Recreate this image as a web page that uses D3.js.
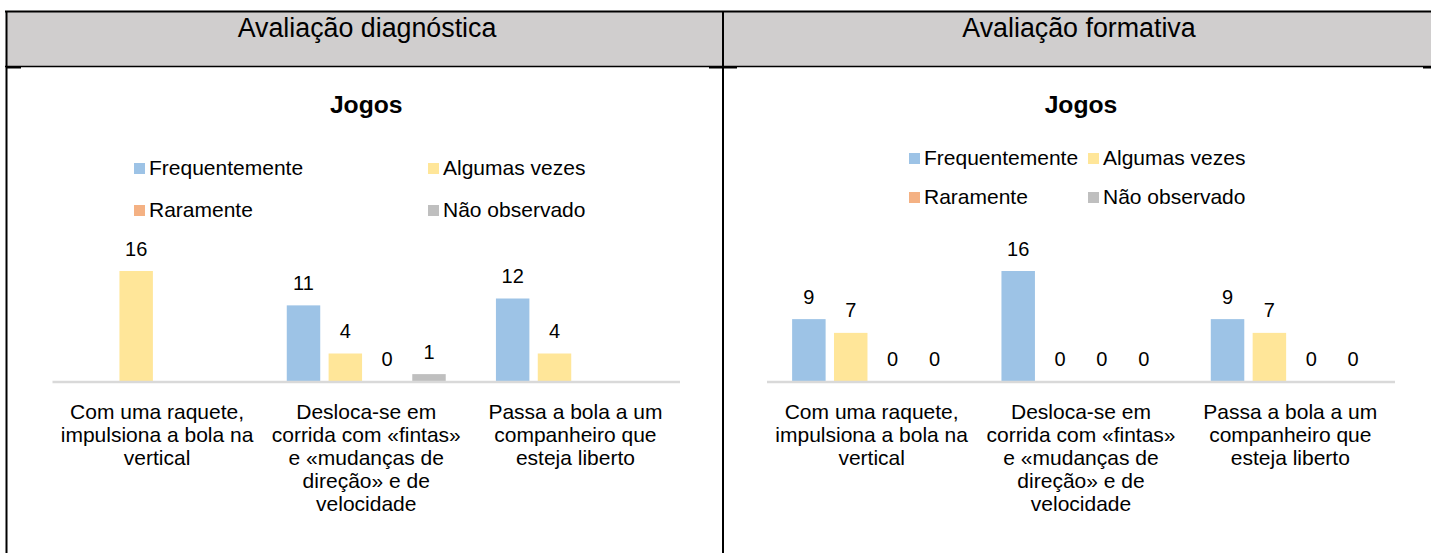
<!DOCTYPE html>
<html>
<head>
<meta charset="utf-8">
<script src="https://cdn.jsdelivr.net/npm/d3@7"></script>
<style>
  body { margin: 0; background: #fff; }
  svg { display: block; font-family: "Liberation Sans", Arial, sans-serif; }
</style>
</head>
<body>
<svg id="chart" width="1431" height="553"></svg>
<script>
// data
const panelTitles = ["Avaliação diagnóstica", "Avaliação formativa"];
const chartTitle = "Jogos";
const seriesNames = ["Frequentemente", "Algumas vezes", "Raramente", "Não observado"];
const seriesColors = ["#9dc3e6", "#ffe699", "#f4b183", "#bfbfbf"];
const categories = [
  ["Com uma raquete,", "impulsiona a bola na", "vertical"],
  ["Desloca-se em", "corrida com «fintas»", "e «mudanças de", "direção» e de", "velocidade"],
  ["Passa a bola a um", "companheiro que", "esteja liberto"]
];
// one row per category, one value per series (null = no label)
const diagnosticaValues = [
  [null, 16, null, null],
  [11, 4, 0, 1],
  [12, 4, null, null]
];
const formativaValues = [
  [9, 7, 0, 0],
  [16, 0, 0, 0],
  [9, 7, 0, 0]
];

const svg = d3.select("#chart");

// table frame
svg.append("rect")
  .attr("x", 6).attr("y", 11)
  .attr("width", 1430).attr("height", 56)
  .attr("fill", "#d0cece");

const frame = svg.append("g").attr("stroke", "#000");
frame.append("line").attr("x1", 5).attr("x2", 1436).attr("y1", 11.5).attr("y2", 11.5).attr("stroke-width", 2);
frame.append("line").attr("x1", 5).attr("x2", 1436).attr("y1", 66.5).attr("y2", 66.5).attr("stroke-width", 1.5);
frame.append("line").attr("x1", 6.5).attr("x2", 6.5).attr("y1", 11).attr("y2", 553).attr("stroke-width", 2);
frame.append("line").attr("x1", 723).attr("x2", 723).attr("y1", 11).attr("y2", 553).attr("stroke-width", 2);
[[6, 21], [709, 737], [1423, 1431]].forEach(function(s) {
  frame.append("line").attr("x1", s[0]).attr("x2", s[1]).attr("y1", 67.5).attr("y2", 67.5).attr("stroke-width", 2);
});

svg.selectAll(".panel-title")
  .data(panelTitles)
  .enter().append("text")
  .attr("class", "panel-title")
  .attr("x", function(d, i) { return i === 0 ? 367 : 1079; })
  .attr("y", 37)
  .attr("text-anchor", "middle")
  .attr("font-size", "26.8px")
  .attr("fill", "#000")
  .text(function(d) { return d; });

function drawChart(values, p) {
  const g = svg.append("g");

  g.append("text")
    .attr("x", (p.x0 + p.x1) / 2)
    .attr("y", 113)
    .attr("text-anchor", "middle")
    .attr("font-size", "24.7px")
    .attr("font-weight", "bold")
    .attr("fill", "#000")
    .text(chartTitle);

  // legend
  const legend = g.selectAll(".legend")
    .data(seriesNames)
    .enter().append("g")
    .attr("class", "legend")
    .attr("transform", function(d, i) {
      return "translate(" + p.legendX[i % 2] + "," + p.legendY[Math.floor(i / 2)] + ")";
    });
  legend.append("rect")
    .attr("x", 0).attr("y", -12)
    .attr("width", 11).attr("height", 11)
    .attr("fill", function(d, i) { return seriesColors[i]; });
  legend.append("text")
    .attr("x", 15).attr("y", 0)
    .attr("font-size", "21px")
    .attr("fill", "#000")
    .text(function(d) { return d; });

  const x0 = d3.scaleBand()
    .domain(d3.range(categories.length))
    .range([p.x0, p.x1]);

  const x1 = d3.scaleBand()
    .domain(d3.range(seriesNames.length))
    .range([0, x0.bandwidth()])
    .paddingInner(0.2)
    .paddingOuter(0.6);

  const y = d3.scaleLinear()
    .domain([0, 16])
    .range([381, 271]);

  const groups = g.selectAll(".cat")
    .data(values)
    .enter().append("g")
    .attr("class", "cat")
    .attr("transform", function(d, i) { return "translate(" + x0(i) + ",0)"; });

  const cells = groups.selectAll(".cell")
    .data(function(d) { return d.map(function(v, i) { return { v: v, s: i }; }); })
    .enter().append("g");

  cells.filter(function(d) { return d.v; })
    .append("rect")
    .attr("x", function(d) { return x1(d.s); })
    .attr("width", x1.bandwidth())
    .attr("y", function(d) { return y(d.v); })
    .attr("height", function(d) { return y(0) - y(d.v); })
    .attr("fill", function(d) { return seriesColors[d.s]; });

  cells.filter(function(d) { return d.v !== null; })
    .append("text")
    .attr("x", function(d) { return x1(d.s) + x1.bandwidth() / 2; })
    .attr("y", function(d) { return y(d.v) - 15.5; })
    .attr("text-anchor", "middle")
    .attr("font-size", "20px")
    .attr("fill", "#000")
    .text(function(d) { return d.v; });

  // baseline
  g.append("line")
    .attr("x1", p.x0).attr("x2", p.x1)
    .attr("y1", y(0) + 1).attr("y2", y(0) + 1)
    .attr("stroke", "#d9d9d9")
    .attr("stroke-width", 2.5);

  // category labels
  const labels = g.selectAll(".cat-label")
    .data(categories)
    .enter().append("text")
    .attr("class", "cat-label")
    .attr("text-anchor", "middle")
    .attr("font-size", "21px")
    .attr("fill", "#000");
  labels.selectAll("tspan")
    .data(function(d, i) { return d.map(function(t) { return { t: t, c: i }; }); })
    .enter().append("tspan")
    .attr("x", function(d) { return x0(d.c) + x0.bandwidth() / 2; })
    .attr("y", function(d, j) { return 419 + j * 23; })
    .text(function(d) { return d.t; });
}

drawChart(diagnosticaValues, { x0: 52.5, x1: 680, legendX: [134, 428], legendY: [175, 217] });
drawChart(formativaValues, { x0: 767, x1: 1395, legendX: [909, 1088], legendY: [165, 204] });
</script>
</body>
</html>
